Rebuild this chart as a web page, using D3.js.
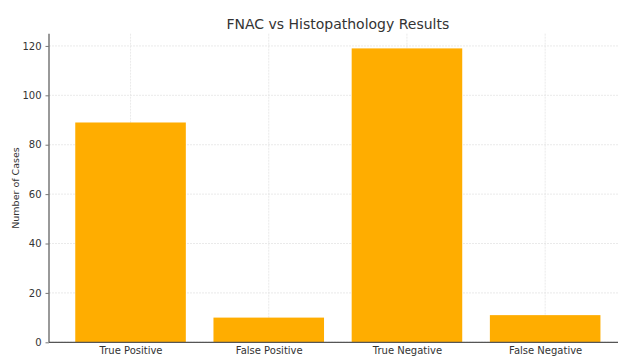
<!DOCTYPE html>
<html><head><meta charset="utf-8">
<script src="https://cdn.jsdelivr.net/npm/d3@7"></script>
<style>body{margin:0;background:#fff}svg{display:block}text{font-family:"DejaVu Sans",sans-serif}</style>
</head><body><svg id="c" width="618" height="358"></svg>
<script>
const categories = ["True Positive","False Positive","True Negative","False Negative"];
const values = [89, 10, 119, 11];
const yTicks = [0,20,40,60,80,100,120];
const title = "FNAC vs Histopathology Results";
const yLabel = "Number of Cases";

(function(){
const svg = d3.select("#c");
const mL = 49, mR = 626.7, mT = 33.7, mB = 342.3;
const x = d3.scaleLinear().domain([-0.59, 3.59]).range([mL, mR]);
const y = d3.scaleLinear().domain([0, 124.95]).range([mB, mT]);
const bw = 0.8;

// grid
const g = svg.append("g");
g.selectAll("line.h").data(yTicks).join("line")
  .attr("x1", mL).attr("x2", mR).attr("y1", d=>y(d)).attr("y2", d=>y(d))
  .attr("stroke", "#e4e4e4").attr("stroke-width", 0.8).attr("stroke-dasharray", "2,1");
g.selectAll("line.v").data(categories).join("line")
  .attr("x1", (d,i)=>x(i)).attr("x2", (d,i)=>x(i)).attr("y1", mT).attr("y2", mB)
  .attr("stroke", "#e4e4e4").attr("stroke-width", 0.8).attr("stroke-dasharray", "2,1");

// bars
svg.selectAll("rect.bar").data(values).join("rect")
  .attr("x", (d,i)=>x(i - bw/2)).attr("width", x(bw) - x(0))
  .attr("y", d=>y(d)).attr("height", d=>y(0)-y(d))
  .attr("fill", "#FFAD00");

// axes
const yAxis = d3.axisLeft(y).tickValues(yTicks).tickSize(3.5).tickPadding(4);
const ya = svg.append("g").attr("transform", `translate(${mL},0)`).call(yAxis);
const xAxis = d3.axisBottom(x).tickValues(d3.range(categories.length)).tickFormat(i=>categories[i]).tickSize(0).tickPadding(5);
const xa = svg.append("g").attr("transform", `translate(0,${mB})`).call(xAxis);
[ya, xa].forEach(a=>{
  a.select(".domain").attr("stroke", "#555").attr("stroke-width", 1.2);
  a.selectAll(".tick line").attr("stroke", "#777");
  a.selectAll("text").attr("fill", "#333").style("font-size", "10px").style("font-family", '"DejaVu Sans",sans-serif');
});
ya.select(".domain").attr("d", `M0,${mB}V${mT}`);
xa.select(".domain").attr("d", `M${mL},0H${mR}`);

svg.append("text").attr("x", (mL+mR)/2).attr("y", 29).attr("text-anchor", "middle")
  .attr("fill", "#333").style("font-size", "14px").text(title);
svg.append("text").attr("transform", `translate(19,${(mT+mB)/2}) rotate(-90)`)
  .attr("text-anchor", "middle").attr("fill", "#333").style("font-size", "9.5px").text(yLabel);
})();
</script></body></html>
